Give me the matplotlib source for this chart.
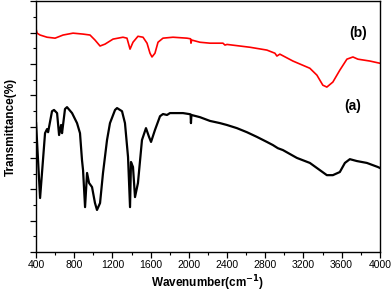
import matplotlib
matplotlib.use('Agg')
import matplotlib.pyplot as plt
from matplotlib.ticker import MultipleLocator, NullFormatter

plt.rcParams['font.family'] = ['Liberation Sans', 'DejaVu Sans']

# curve (a) - black
wn_a = [400, 442, 494, 515, 526, 567, 588, 620, 641, 662, 672, 703, 724, 777, 829,
        860, 881, 892, 913, 934, 955, 986, 1017, 1038, 1070, 1101, 1143, 1174, 1227,
        1248, 1300, 1331, 1363, 1384, 1394, 1415, 1436, 1467, 1509, 1551, 1583, 1604,
        1645, 1698, 1729, 1771, 1802, 1876, 1938, 2001, 2018, 2022, 2027, 2116, 2221,
        2326, 2399, 2503, 2608, 2713, 2817, 2880, 2932, 2985, 3131, 3267, 3372, 3445,
        3508, 3581, 3634, 3686, 3759, 3864, 3979, 4000]
t_a = [4.11, 1.72, 3.79, 3.92, 3.82, 4.49, 4.53, 4.43, 3.73, 4.05, 3.79, 4.56, 4.62, 4.43,
       4.11, 3.79, 2.93, 2.61, 1.43, 2.52, 2.20, 2.07, 1.56, 1.34, 1.56, 2.52, 3.57, 4.11,
       4.53, 4.59, 4.49, 4.11, 3.03, 1.43, 2.87, 2.71, 1.75, 2.20, 3.57, 3.95, 3.67, 3.51,
       3.89, 4.33, 4.40, 4.37, 4.43, 4.43, 4.43, 4.40, 4.39, 4.11, 4.37, 4.30, 4.18,
       4.11, 4.05, 3.95, 3.82, 3.67, 3.51, 3.41, 3.31, 3.25, 3.00, 2.84, 2.61, 2.45,
       2.45, 2.55, 2.84, 2.96, 2.90, 2.84, 2.71, 2.68]

# curve (b) - red
wn_b = [400, 410, 442, 515, 599, 683, 787, 892, 965, 1017, 1070, 1122, 1206, 1310, 1352,
        1384, 1415, 1467, 1520, 1562, 1593, 1614, 1645, 1677, 1729, 1834, 1980, 2018,
        2022, 2030, 2116, 2221, 2357, 2378, 2400, 2640, 2817, 2901, 2922, 2953, 3090,
        3267, 3341, 3403, 3445, 3508, 3581, 3655, 3718, 3770, 3896, 4000]
t_b = [7.11, 6.98, 6.92, 6.85, 6.82, 6.92, 6.98, 6.95, 6.92, 6.76, 6.57, 6.63, 6.79, 6.85,
       6.82, 6.47, 6.69, 6.88, 6.85, 6.66, 6.34, 6.22, 6.34, 6.69, 6.82, 6.85, 6.82, 6.80,
       6.66, 6.76, 6.69, 6.66, 6.66, 6.60, 6.62, 6.53, 6.44, 6.34, 6.25, 6.31, 6.09,
       5.86, 5.64, 5.32, 5.26, 5.42, 5.80, 6.15, 6.22, 6.15, 6.09, 6.02]

fig = plt.figure(figsize=(3.92, 2.94), dpi=100)
ax = fig.add_axes([0.092, 0.143, 0.877, 0.853])

ax.plot(wn_a, t_a, color='black', lw=1.6)
ax.plot(wn_b, t_b, color='red', lw=1.2)

ax.set_xlim(400, 4000)
ax.set_ylim(0, 8)
ax.xaxis.set_major_locator(MultipleLocator(400))
ax.xaxis.set_minor_locator(MultipleLocator(200))
ax.yaxis.set_major_locator(MultipleLocator(1))
ax.yaxis.set_minor_locator(MultipleLocator(0.5))
ax.yaxis.set_major_formatter(NullFormatter())
ax.tick_params(which='major', direction='out', length=4, width=0.9, labelsize=7.5)
ax.tick_params(which='minor', direction='out', length=2, width=0.8)
ax.tick_params(axis='x', pad=2)
for s in ax.spines.values():
    s.set_linewidth(1.0)

ax.text(3770, 7.0, '(b)', fontsize=10, fontweight='bold', ha='center', va='center')
ax.text(3720, 4.65, '(a)', fontsize=10, fontweight='bold', ha='center', va='center')

ax.set_xlabel('Wavenumber(cm$^{\\mathbf{-1}}$)', fontsize=8.5, fontweight='bold', labelpad=2)
ax.set_ylabel('Transmittance(%)', fontsize=8.5, fontweight='bold', labelpad=6)

fig.savefig('out.png', dpi=100)
